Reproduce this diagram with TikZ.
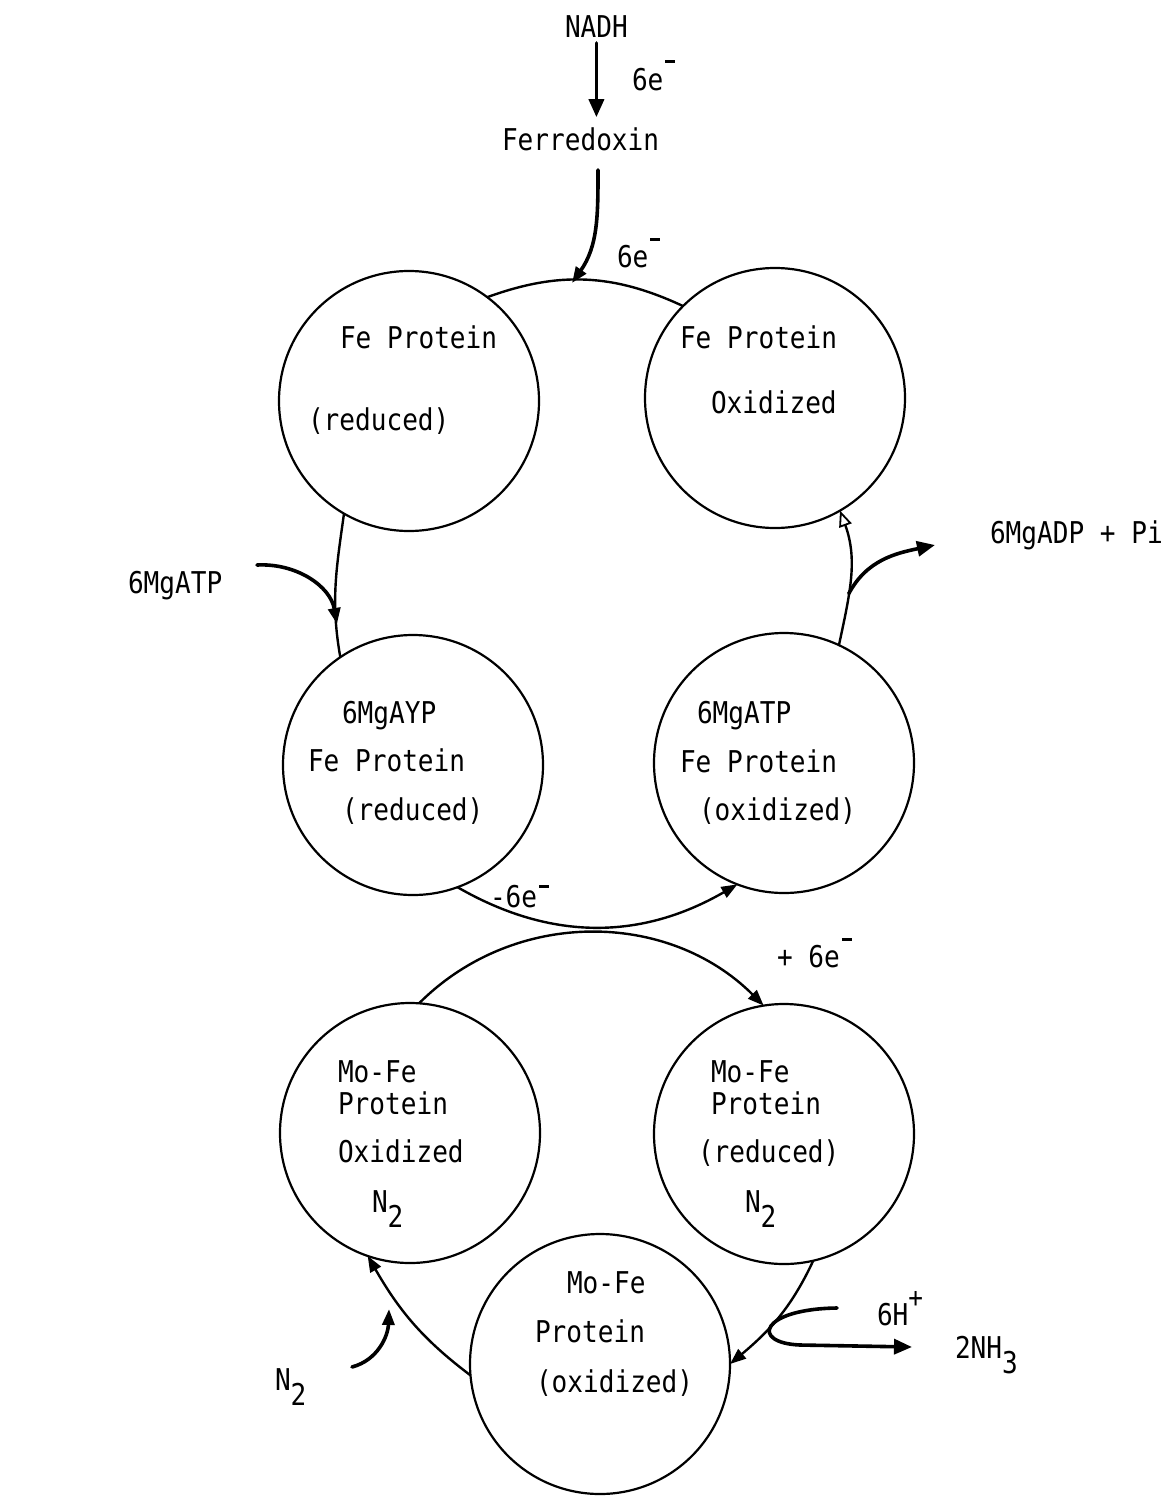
\documentclass[tikz,border=0pt]{standalone}
\usepackage{fontspec}
\setmainfont[FakeStretch=0.87]{DejaVu Sans Mono}
\usetikzlibrary{arrows.meta}
\newcommand{\mysup}[2]{\raisebox{#1pt}{\fontsize{28}{28}\selectfont #2}}
\newcommand{\myminus}[1]{\hspace{2pt}\raisebox{#1pt}{\rule{10pt}{2.6pt}}}
\newcommand{\mysub}[1]{\raisebox{-15pt}{#1}}
\begin{document}
\begin{tikzpicture}[x=1pt,y=1pt,
  font=\fontsize{30}{32}\selectfont,
  circ/.style={circle,draw,line width=2.2pt,minimum size=260pt,inner sep=0pt,outer sep=0pt},
  lbl/.style={anchor=base west,inner sep=0pt,outer sep=0pt},
  arcline/.style={line width=2.4pt},
  feed/.style={line width=3.6pt,line cap=round},
  tip/.style={-{Triangle[length=16pt,width=12pt]}},
  bigtip/.style={-{Triangle[length=18pt,width=15pt]}},
  opentip/.style={-{Triangle[open,length=16pt,width=13pt,line width=1.8pt]}},
]
\useasboundingbox (0,0) rectangle (1166,-1496);
\fill[white] (0,0) rectangle (1166,-1496);

% circles
\node[circ] (c1) at (409,-401) {};
\node[circ] (c2) at (775,-398) {};
\node[circ] (c3) at (413,-765) {};
\node[circ] (c4) at (784,-763) {};
\node[circ] (c5) at (410,-1133) {};
\node[circ] (c6) at (784,-1134) {};
\node[circ] (c7) at (600,-1364) {};

% texts in circles
\node[lbl] (t1a) at (340,-348) {Fe Protein};
\node[lbl] (t1b) at (308,-430) {(reduced)};
\node[lbl] (t2a) at (680,-348) {Fe Protein};
\node[lbl] (t2b) at (711,-413) {Oxidized};
\node[lbl] (t3a) at (342,-723) {6MgAYP};
\node[lbl] (t3b) at (308,-771) {Fe Protein};
\node[lbl] (t3c) at (342,-820) {(reduced)};
\node[lbl] (t4a) at (697,-723) {6MgATP};
\node[lbl] (t4b) at (680,-772) {Fe Protein};
\node[lbl] (t4c) at (699,-820) {(oxidized)};
\node[lbl] (t5a) at (338,-1082) {Mo-Fe};
\node[lbl] (t5b) at (338,-1114) {Protein};
\node[lbl] (t5c) at (338,-1162) {Oxidized};
\node[lbl] (t5d) at (372,-1212) {N\mysub{2}};
\node[lbl] (t6a) at (711,-1082) {Mo-Fe};
\node[lbl] (t6b) at (711,-1114) {Protein};
\node[lbl] (t6c) at (698,-1162) {(reduced)};
\node[lbl] (t6d) at (745,-1212) {N\mysub{2}};
\node[lbl] (t7a) at (567,-1293) {Mo-Fe};
\node[lbl] (t7b) at (535,-1342) {Protein};
\node[lbl] (t7c) at (536,-1392) {(oxidized)};

% outside labels
\node[lbl] (nadh) at (565,-38) {NADH};
\node[lbl] (fdx) at (502,-150) {Ferredoxin};
\node[lbl] (e1) at (632,-90) {6e\myminus{27}};
\node[lbl] (e2) at (617,-267) {6e\myminus{26}};
\node[lbl] (atp) at (128,-593) {6MgATP};
\node[lbl] (adp) at (990,-543) {6MgADP + Pi};
\node[lbl] (e3) at (490,-907) {-6e\myminus{19}};
\node[lbl] (e4) at (777,-967) {+ 6e\myminus{26}};
\node[lbl] (hp) at (877,-1325) {6H\mysup{18}{+}};
\node[lbl] (nh3) at (955,-1358) {2NH\mysub{3}};
\node[lbl] (n2) at (275,-1390) {N\mysub{2}};

% free-end coordinates
\coordinate (fS) at (598,-170);
\coordinate (fT) at (572,-283);
\coordinate (atpS) at (257,-565);
\coordinate (atpT) at (337,-624);
\coordinate (adpT) at (935,-545);
\coordinate (hS) at (837,-1308);
\coordinate (hT) at (912,-1347);
\coordinate (n2S) at (352,-1367);
\coordinate (n2T) at (389,-1309);

% upper cycle
\draw[arcline] (c1.53) to[out=20,in=155] (c2.135);
\draw[arcline] (c1.240) to[out=262,in=100] (c3.124);
\draw[arcline,opentip] (c4.65) to[out=78,in=290] coordinate[pos=0.37] (adpS) (c2.-60);
\draw[arcline,tip] (c3.-70) to[out=-30,in=210] (c4.-111);

% lower cycle
\draw[arcline,tip] (c5.86) to[out=45,in=135] (c6.99);
\draw[arcline,tip] (c6.-77) to[out=245,in=40] (c7.0);
\draw[arcline,tip] (c7.185) to[out=143,in=-60] (c5.251);

% feeds
\draw[feed,bigtip,shorten <=5pt,shorten >=10pt] (nadh.south) -- (nadh.south |- fdx.north);
\draw[feed,tip] (fS) to[out=-90,in=55] (fT);
\draw[feed,tip] (atpS) to[out=3,in=100] (atpT);
\draw[feed,bigtip] (adpS) to[out=62,in=192] (adpT);
\draw[feed,bigtip] (hS) .. controls (760,-1309) and (750,-1343) .. (800,-1345) -- (hT);
\draw[feed,tip] (n2S) to[out=15,in=268] (n2T);
\end{tikzpicture}
\end{document}
